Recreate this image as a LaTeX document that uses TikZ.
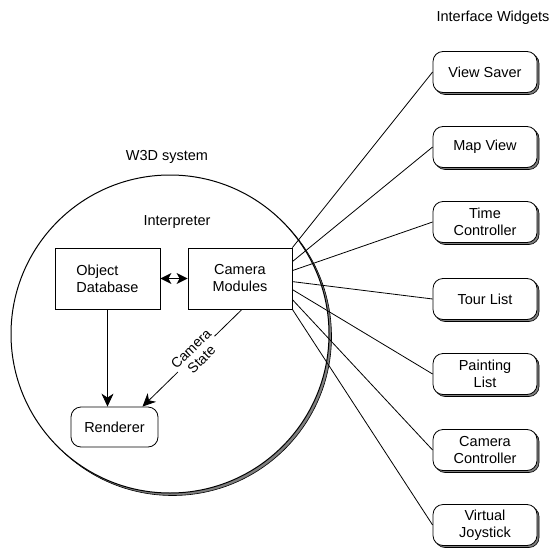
\documentclass[tikz,border=0pt]{standalone}
\usepackage{fontspec}
\setmainfont{Liberation Sans}
\usetikzlibrary{arrows.meta,shadows}
\begin{document}
\begin{tikzpicture}[x=1pt,y=-1pt,
  font=\fontsize{14.5}{17}\selectfont,
  line width=0.8pt,
  shad/.style={drop shadow={shadow xshift=2pt,shadow yshift=-2pt,fill=gray,draw=black,line width=0.6pt,opacity=1}},
  widget/.style={draw,fill=white,rounded corners=10pt,minimum width=104pt,minimum height=41pt,align=center,inner sep=1pt,shad},
  box/.style={draw,fill=white,minimum width=105pt,minimum height=61pt,inner sep=2pt},
  conn/.style={line width=0.8pt},
  arr/.style={-{Stealth[length=13pt,width=12pt,inset=4pt]}},
  darr/.style={{Stealth[length=11pt,width=11pt,inset=3pt]}-{Stealth[length=11pt,width=11pt,inset=3pt]}},
  lbl/.style={inner sep=0pt}
]
\useasboundingbox (0,0) rectangle (556,548);
% system circle
\node[draw,circle,fill=white,minimum size=318pt,line width=1pt,drop shadow={shadow xshift=2.5pt,shadow yshift=-2.5pt,fill=gray,draw=black,line width=0.6pt,opacity=1}] (sys) at (170,334) {};
\node[lbl] (t-sys) at (167,157) {W3D system};
\node[lbl] (t-int) at (177,222) {Interpreter};
\node[lbl] (t-iw) at (493,18) {Interface Widgets};
% inner boxes
\node[box,align=left] (db) at (107.5,278.5) {Object\\Database};
\node[box,minimum width=104pt,align=center] (cam) at (240,278.5) {Camera\\Modules};
\node[draw,fill=white,rounded corners=10pt,minimum width=87pt,minimum height=40pt,inner sep=1pt] (ren) at (114.5,427) {Renderer};
% arrows
\draw[darr,line width=1.2pt] (db.east) -- (cam.west);
\draw[arr] (db.south) -- (db.south |- ren.north);
\draw[arr] ([xshift=2pt]cam.south) -- node[pos=0.46,sloped,fill=white,inner sep=0.5pt,align=center,font=\fontsize{14}{15}\selectfont] (t-cs) {Camera\\State} ([xshift=28pt]ren.north);
% widgets
\node[widget] (w1) at (485,72) {View Saver};
\node[widget] (w2) at (485,147) {Map View};
\node[widget] (w3) at (485,222) {Time\\Controller};
\node[widget] (w4) at (485,299) {Tour List};
\node[widget] (w5) at (485,374) {Painting\\List};
\node[widget] (w6) at (485,450) {Camera\\Controller};
\node[widget] (w7) at (485,525) {Virtual\\Joystick};
% connectors
\draw[conn] (cam.north east) -- (w1.west);
\draw[conn] ([yshift=-14pt]cam.north east) -- (w2.west);
\draw[conn] ([yshift=-23pt]cam.north east) -- (w3.west);
\draw[conn] ([yshift=-34pt]cam.north east) -- (w4.west);
\draw[conn] ([yshift=-42pt]cam.north east) -- (w5.west);
\draw[conn] ([yshift=-52pt]cam.north east) -- (w6.west);
\draw[conn] (cam.south east) -- (w7.west);
\end{tikzpicture}
\end{document}
